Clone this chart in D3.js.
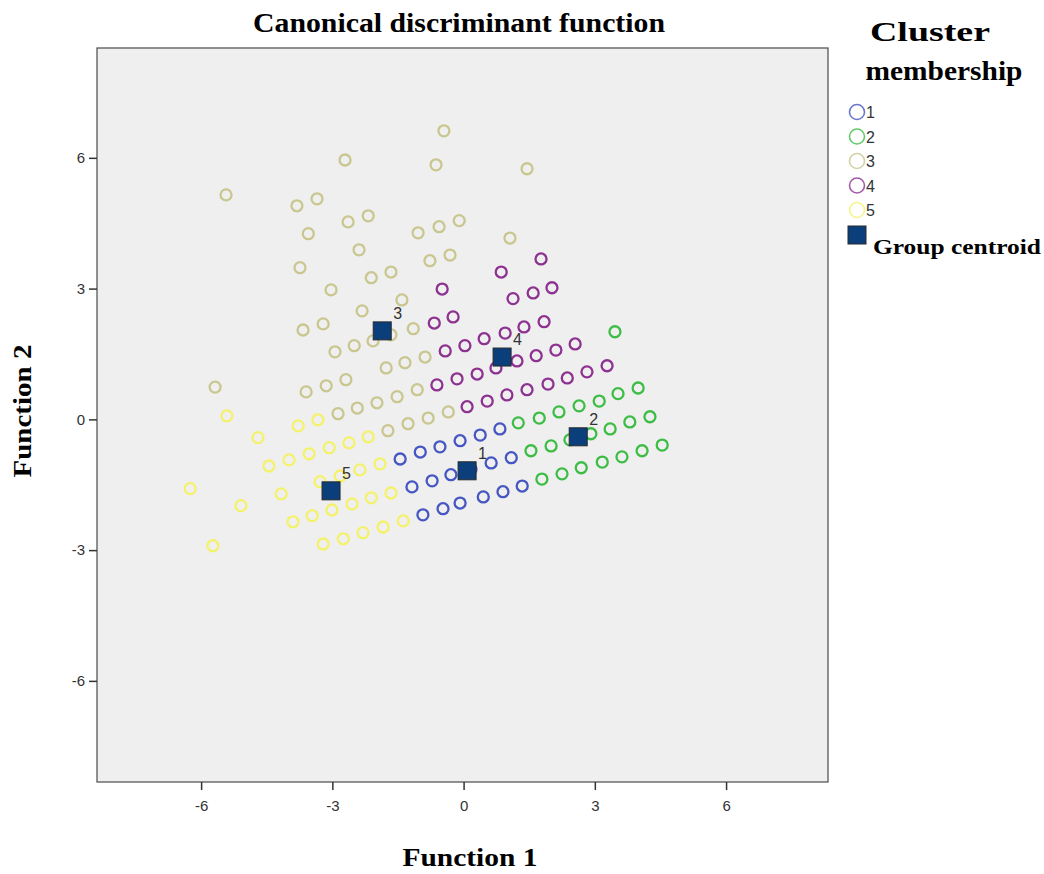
<!DOCTYPE html>
<html>
<head>
<meta charset="utf-8">
<script src="https://cdn.jsdelivr.net/npm/d3@7"></script>
<style>
  html, body { margin: 0; padding: 0; background: #ffffff; }
  svg { display: block; }
</style>
</head>
<body>
<svg id="chart" width="1044" height="874"></svg>
<script>
// canonical discriminant scores, [function 1, function 2]
const cluster1 = [
  [0.83, -0.22], [0.38, -0.36], [-0.08, -0.49], [-0.54, -0.63], [-0.99, -0.75], [-1.45, -0.91],
  [1.09, -0.88], [0.63, -1.00], [0.17, -1.14], [-0.29, -1.27], [-0.72, -1.41], [-1.18, -1.55],
  [1.34, -1.53], [0.90, -1.66], [0.45, -1.78], [-0.08, -1.92], [-0.47, -2.05], [-0.93, -2.19]
];
const cluster2 = [
  [3.46, 2.01],
  [1.25, -0.08], [1.73, 0.03], [2.18, 0.17], [2.64, 0.31], [3.10, 0.42], [3.53, 0.59], [3.99, 0.72],
  [1.54, -0.72], [2.00, -0.61], [2.43, -0.47], [2.91, -0.33], [3.35, -0.22], [3.80, -0.06], [4.26, 0.06],
  [1.79, -1.37], [2.25, -1.25], [2.69, -1.11], [3.17, -0.98], [3.62, -0.86], [4.08, -0.72], [4.54, -0.59]
];
const cluster3 = [
  [-2.71, 5.95], [-5.43, 5.15], [-3.81, 4.90], [-3.35, 5.06], [-2.64, 4.53], [-2.18, 4.67],
  [-3.55, 4.26], [-2.39, 3.89], [-3.74, 3.48], [-2.11, 3.25], [-1.66, 3.38], [-3.03, 2.97],
  [-1.04, 4.28], [-1.41, 2.74], [-2.32, 2.49], [-0.45, 6.62], [-0.63, 5.84], [1.45, 5.75],
  [-0.56, 4.42], [-0.10, 4.56], [1.06, 4.16], [-0.77, 3.64], [-0.31, 3.77],
  [-3.21, 2.19], [-3.67, 2.05], [-2.50, 1.69], [-2.94, 1.55], [-2.07, 1.80], [-1.66, 1.94], [-1.15, 2.08],
  [-1.77, 1.18], [-1.34, 1.30], [-0.88, 1.43], [-2.69, 0.91], [-3.14, 0.77], [-3.60, 0.63], [-5.68, 0.74],
  [-1.52, 0.52], [-1.98, 0.38], [-2.43, 0.26], [-2.87, 0.13], [-1.06, 0.68],
  [-0.35, 0.17], [-0.81, 0.03], [-1.27, -0.10], [-1.73, -0.26]
];
const cluster4 = [
  [0.86, 3.38], [1.77, 3.68], [-0.49, 2.99], [1.13, 2.77], [1.59, 2.90], [2.02, 3.02],
  [-0.67, 2.21], [-0.24, 2.35], [1.38, 2.12], [1.84, 2.24],
  [-0.42, 1.57], [0.03, 1.69], [0.47, 1.85], [0.95, 1.98],
  [1.22, 1.34], [1.66, 1.46], [2.11, 1.59], [2.55, 1.73], [3.28, 1.23], [2.82, 1.09],
  [2.37, 0.95], [1.93, 0.81], [1.45, 0.68], [0.99, 0.56], [0.54, 0.42], [0.08, 0.29],
  [0.74, 1.18], [0.31, 1.04], [-0.15, 0.93], [-0.61, 0.79]
];
const cluster5 = [
  [-5.41, 0.08], [-4.70, -0.42], [-3.78, -0.15], [-3.33, -0.01],
  [-2.18, -0.40], [-2.62, -0.54], [-3.07, -0.65], [-3.53, -0.79], [-3.99, -0.93], [-4.45, -1.07],
  [-1.91, -1.02], [-2.37, -1.16], [-2.82, -1.30], [-3.28, -1.43], [-6.25, -1.59], [-4.17, -1.71],
  [-1.66, -1.69], [-2.11, -1.80], [-2.55, -1.94], [-3.01, -2.08], [-3.46, -2.21], [-3.90, -2.35],
  [-5.09, -1.98], [-5.73, -2.90],
  [-3.21, -2.86], [-2.75, -2.74], [-2.30, -2.60], [-1.84, -2.47], [-1.38, -2.33]
];
const centroids = [
  { label: "1", x: 0.08, y: -1.18 },
  { label: "2", x: 2.62, y: -0.40 },
  { label: "3", x: -1.86, y: 2.03 },
  { label: "4", x: 0.88, y: 1.43 },
  { label: "5", x: -3.03, y: -1.64 }
];
const clusterNames = ["1", "2", "3", "4", "5"];
const clusterColors = ["#4656c2", "#3dbd45", "#c9c78f", "#8e3291", "#f4f26a"];
const xTicks = [-6, -3, 0, 3, 6];
const yTicks = [-6, -3, 0, 3, 6];

const svg = d3.select("#chart");

const plot = { left: 97, right: 828, top: 48, bottom: 782 };

const x = d3.scaleLinear().domain([-8.38, 8.33]).range([plot.left, plot.right]);
const y = d3.scaleLinear().domain([-8.32, 8.52]).range([plot.bottom, plot.top]);

// plot background
svg.append("rect")
  .attr("x", plot.left)
  .attr("y", plot.top)
  .attr("width", plot.right - plot.left)
  .attr("height", plot.bottom - plot.top)
  .attr("fill", "#efefef")
  .attr("stroke", "#4a4a4a")
  .attr("stroke-width", 1.2);

// axes (plain hyphen for negatives, like the original)
const tickFmt = (d) => String(d);
const xAxis = svg.append("g")
  .attr("transform", `translate(0,${plot.bottom})`)
  .call(d3.axisBottom(x).tickValues(xTicks).tickSize(8).tickPadding(10).tickFormat(tickFmt));
const yAxis = svg.append("g")
  .attr("transform", `translate(${plot.left},0)`)
  .call(d3.axisLeft(y).tickValues(yTicks).tickSize(8).tickPadding(4).tickFormat(tickFmt));

[xAxis, yAxis].forEach((g) => {
  g.select(".domain").remove();
  g.selectAll(".tick line").attr("stroke", "#333").attr("stroke-width", 1.5);
  g.selectAll(".tick text")
    .attr("fill", "#333")
    .style("font-family", "'Liberation Sans', Arial, sans-serif")
    .style("font-size", "15px");
});

// points
const clusters = [cluster1, cluster2, cluster3, cluster4, cluster5];
const pointLayer = svg.append("g");
clusters.forEach((pts, i) => {
  pointLayer.selectAll(null)
    .data(pts)
    .join("circle")
    .attr("cx", (d) => x(d[0]))
    .attr("cy", (d) => y(d[1]))
    .attr("r", 5.5)
    .attr("fill", "none")
    .attr("stroke", clusterColors[i])
    .attr("stroke-width", 2.3);
});

// group centroids
const cSize = 18;
const cg = svg.append("g");
cg.selectAll("rect")
  .data(centroids)
  .join("rect")
  .attr("x", (d) => x(d.x) - cSize / 2)
  .attr("y", (d) => y(d.y) - cSize / 2)
  .attr("width", cSize)
  .attr("height", cSize)
  .attr("fill", "#0b3f7c")
  .attr("stroke", "#2a2a2a")
  .attr("stroke-width", 1);
cg.selectAll("text")
  .data(centroids)
  .join("text")
  .attr("x", (d) => x(d.x) + 11)
  .attr("y", (d) => y(d.y) - 12)
  .attr("fill", "#333")
  .style("font-family", "'Liberation Sans', Arial, sans-serif")
  .style("font-size", "16px")
  .text((d) => d.label);

// titles
const serif = "'Liberation Serif', 'Times New Roman', serif";
svg.append("text")
  .attr("x", 459)
  .attr("y", 32)
  .attr("text-anchor", "middle")
  .attr("textLength", 412)
  .attr("lengthAdjust", "spacingAndGlyphs")
  .style("font-family", serif)
  .style("font-weight", "bold")
  .style("font-size", "27px")
  .text("Canonical discriminant function");

svg.append("text")
  .attr("x", 470)
  .attr("y", 866)
  .attr("text-anchor", "middle")
  .attr("textLength", 135)
  .attr("lengthAdjust", "spacingAndGlyphs")
  .style("font-family", serif)
  .style("font-weight", "bold")
  .style("font-size", "26px")
  .text("Function 1");

svg.append("text")
  .attr("transform", "translate(31,411) rotate(-90)")
  .attr("text-anchor", "middle")
  .attr("textLength", 133)
  .attr("lengthAdjust", "spacingAndGlyphs")
  .style("font-family", serif)
  .style("font-weight", "bold")
  .style("font-size", "26px")
  .text("Function 2");

// legend
const legend = svg.append("g");
legend.append("text")
  .attr("x", 930)
  .attr("y", 41)
  .attr("text-anchor", "middle")
  .attr("textLength", 120)
  .attr("lengthAdjust", "spacingAndGlyphs")
  .style("font-family", serif)
  .style("font-weight", "bold")
  .style("font-size", "28px")
  .text("Cluster");
legend.append("text")
  .attr("x", 944)
  .attr("y", 80)
  .attr("text-anchor", "middle")
  .attr("textLength", 157)
  .attr("lengthAdjust", "spacingAndGlyphs")
  .style("font-family", serif)
  .style("font-weight", "bold")
  .style("font-size", "27px")
  .text("membership");

const legendY = d3.scalePoint().domain(clusterNames).range([112, 210]);
const items = legend.selectAll("g.item")
  .data(clusterNames)
  .join("g")
  .attr("class", "item")
  .attr("transform", (d) => `translate(857,${legendY(d)})`);
items.append("circle")
  .attr("r", 7.5)
  .attr("fill", "none")
  .attr("stroke", (d, i) => clusterColors[i])
  .attr("stroke-width", 1.6)
  .attr("opacity", 0.8);
items.append("text")
  .attr("x", 9)
  .attr("y", 6)
  .attr("fill", "#333")
  .style("font-family", "'Liberation Sans', Arial, sans-serif")
  .style("font-size", "16px")
  .text((d) => d);

legend.append("rect")
  .attr("x", 848)
  .attr("y", 226)
  .attr("width", 18)
  .attr("height", 18)
  .attr("fill", "#0b3f7c")
  .attr("stroke", "#2a2a2a")
  .attr("stroke-width", 1);
legend.append("text")
  .attr("x", 873)
  .attr("y", 254)
  .attr("textLength", 168)
  .attr("lengthAdjust", "spacingAndGlyphs")
  .style("font-family", serif)
  .style("font-weight", "bold")
  .style("font-size", "20px")
  .text("Group centroid");
</script>
</body>
</html>
